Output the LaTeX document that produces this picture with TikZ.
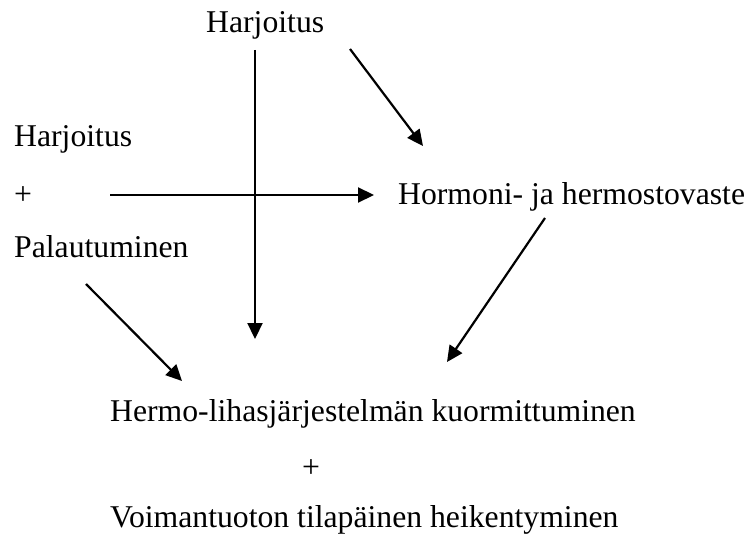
\documentclass[tikz,border=0pt]{standalone}
\usepackage{fontspec}
\setmainfont{Liberation Serif}
\usetikzlibrary{arrows.meta}
\begin{document}
\begin{tikzpicture}[x=1pt,y=-1pt,
  lbl/.style={inner sep=0pt,anchor=base west,font=\fontsize{31.7}{38}\selectfont},
  arr/.style={line width=2.2pt,-{Triangle[length=16pt,width=15pt]}}]
\useasboundingbox (0,0) rectangle (750,535);
% texts
\node[lbl] (top) at (206,33) {Harjoitus};
\node[lbl] (h2) at (14,146) {Harjoitus};
\node[lbl] (plus1) at (14,204) {+};
\node[lbl] (pal) at (14,257) {Palautuminen};
\node[lbl] (horm) at (398,204) {Hormoni- ja hermostovaste};
\node[lbl] (hermo) at (110,421) {Hermo-lihasjärjestelmän kuormittuminen};
\node[lbl] (plus2) at (302,477) {+};
\node[lbl] (voima) at (110,527) {Voimantuoton tilapäinen heikentyminen};
% connector end points
\coordinate (v1) at (255,50);   \coordinate (v2) at (255,339);
\coordinate (hz1) at (110,195); \coordinate (hz2) at (374,195);
\coordinate (d1a) at (350,49);  \coordinate (d1b) at (423,146);
\coordinate (d2a) at (86,284);  \coordinate (d2b) at (182,381);
\coordinate (d3a) at (545,218); \coordinate (d3b) at (447,362);
% connectors
\draw[arr] (v1) -- (v2);
\draw[arr] (hz1) -- (hz2);
\draw[arr] (d1a) -- (d1b);
\draw[arr] (d2a) -- (d2b);
\draw[arr] (d3a) -- (d3b);
\end{tikzpicture}
\end{document}
